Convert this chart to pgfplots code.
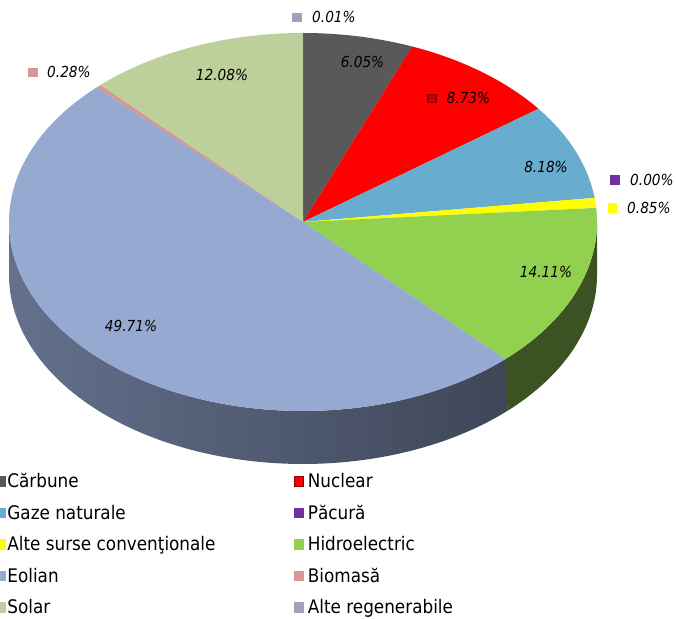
\documentclass[border=0pt]{standalone}
\usepackage{fontspec}
\setmainfont{DejaVu Sans}[FakeStretch=0.9]
\usepackage{pgfplots}
\pgfplotsset{compat=1.18}
\definecolor{cCarb}{HTML}{595959}
\definecolor{cNuc}{HTML}{FF0000}
\definecolor{cNucD}{HTML}{8A0000}
\definecolor{cNucM}{HTML}{D00000}
\definecolor{cGaz}{HTML}{68ACD0}
\definecolor{cPac}{HTML}{7030A0}
\definecolor{cAlte}{HTML}{FFFF00}
\definecolor{cHid}{HTML}{92D050}
\definecolor{cHidS}{HTML}{3C5222}
\definecolor{cEol}{HTML}{95A9D1}
\definecolor{cEolL}{HTML}{7787A7}
\definecolor{cEolR}{HTML}{3B4253}
\definecolor{cBio}{HTML}{D99694}
\definecolor{cSol}{HTML}{BDCF9B}
\definecolor{cAR}{HTML}{A99CC0}
\pgfdeclarehorizontalshading{eolside}{100bp}{color(0bp)=(cEolL); color(79bp)=(cEolR); color(100bp)=(cEolR)}
% slice on the top face: cumulative start and end percentages
\newcommand{\pieslice}[3]{\addplot[forget plot, draw=none, fill=#3, mark=none,
  domain=90-3.6*(#2):90-3.6*(#1), samples=90]
  ({303+294*cos(x)},{396+189*sin(x)}) -- (axis cs:303,396) -- cycle;}
% visible side band between angles #1 and #2 (depth 53)
\newcommand{\pieside}[3]{\addplot[forget plot, draw=none, #3, mark=none, domain=0:2, samples=161]
  ({303+294*cos(ifthenelse(x<=1,(#1)+((#2)-(#1))*x,(#2)+((#1)-(#2))*(x-1)))},
   {396+189*sin(ifthenelse(x<=1,(#1)+((#2)-(#1))*x,(#2)+((#1)-(#2))*(x-1)))-53*(x>1)});}
\newcommand{\lab}{\fontsize{15.2}{18}\selectfont\itshape}
\pgfplotsset{
  sqL/.style={legend image code/.code={\fill[#1] (0pt,-4.75pt) rectangle (5pt,4.75pt);}},
  sqR/.style={legend image code/.code={\fill[#1] (0pt,-4.75pt) rectangle (9.5pt,4.75pt);}},
}
\begin{document}
\begin{tikzpicture}
\begin{axis}[width=676pt, height=618pt, scale only axis,
  xmin=0, xmax=676, ymin=0, ymax=618, hide axis, clip=false,
  legend columns=2, legend cell align=left,
  legend style={at={(0,0.2328)}, anchor=north west, draw=none, fill=none,
    inner sep=0pt, outer sep=0pt, row sep=17.8pt,
    font=\fontsize{18.7}{22}\selectfont,
    nodes={inner sep=0pt, outer sep=0pt, text height=13.7pt, text depth=0pt},
    /tikz/column 1/.style={column sep=2pt},
    /tikz/column 2/.style={column sep=78pt},
    /tikz/column 3/.style={column sep=4.5pt}},
]
% sides (front half)
\pieside{90-3.6*37.92+0.6}{-180}{shading=eolside}
\pieside{0}{90-3.6*37.92}{fill=cHidS}
% top face, clockwise from 12 o'clock
\pieslice{0}{6.05}{cCarb}                 % Carbune 6.05
\pieslice{6.05}{14.78}{cNuc}              % Nuclear 8.73
\pieslice{14.78}{22.96}{cGaz}             % Gaze naturale 8.18
% Pacura 0.00
\pieslice{22.96}{23.81}{cAlte}            % Alte surse conventionale 0.85
\pieslice{23.81}{37.92}{cHid}             % Hidroelectric 14.11
\pieslice{37.92}{87.63}{cEol}             % Eolian 49.71
\pieslice{87.63}{87.91}{cBio}             % Biomasa 0.28
\pieslice{87.91}{99.99}{cSol}             % Solar 12.08
\pieslice{99.99}{100}{cAR}                % Alte regenerabile 0.01
% data labels
\node[anchor=west, inner sep=0pt, text height=11pt, text depth=0pt, font=\lab] at (axis cs:292,600.5)
  {\textcolor{cAR}{\rule[0.75pt]{9.5pt}{9.5pt}}\hspace{10.5pt}0.01\%};
\node[inner sep=0pt, text height=11pt, text depth=0pt, font=\lab] at (axis cs:362.5,556) {6.05\%};
\node[anchor=west, inner sep=0pt, text height=11pt, text depth=0pt, font=\lab] at (axis cs:427,519.5)
  {\textcolor{cNucD}{\rule[0.75pt]{9.5pt}{9.5pt}}\hspace{-8pt}\textcolor{cNucM}{\rule[2.25pt]{6.5pt}{6.5pt}}\hspace{11.5pt}8.73\%};
\node[inner sep=0pt, text height=11pt, text depth=0pt, font=\lab] at (axis cs:546,451) {8.18\%};
\node[anchor=west, inner sep=0pt, text height=11pt, text depth=0pt, font=\lab] at (axis cs:610,438)
  {\textcolor{cPac}{\rule[0.75pt]{9.5pt}{9.5pt}}\hspace{10.5pt}0.00\%};
\node[anchor=west, inner sep=0pt, text height=11pt, text depth=0pt, font=\lab] at (axis cs:607.5,410)
  {\textcolor{cAlte}{\rule[0.75pt]{9.5pt}{9.5pt}}\hspace{10pt}0.85\%};
\node[inner sep=0pt, text height=11pt, text depth=0pt, font=\lab] at (axis cs:546,346) {14.11\%};
\node[inner sep=0pt, text height=11pt, text depth=0pt, font=\lab] at (axis cs:131,292) {49.71\%};
\node[anchor=west, inner sep=0pt, text height=11pt, text depth=0pt, font=\lab] at (axis cs:28,545.5)
  {\textcolor{cBio}{\rule[0.75pt]{9.5pt}{9.5pt}}\hspace{9.5pt}0.28\%};
\node[inner sep=0pt, text height=11pt, text depth=0pt, font=\lab] at (axis cs:222,543) {12.08\%};
% legend
\addlegendimage{sqL=cCarb}\addlegendentry{Cărbune}
\addlegendimage{sqR={cNuc,draw=cNucD}}\addlegendentry{Nuclear}
\addlegendimage{sqL=cGaz}\addlegendentry{Gaze naturale}
\addlegendimage{sqR=cPac}\addlegendentry{Păcură}
\addlegendimage{sqL=cAlte}\addlegendentry{Alte surse convenţionale}
\addlegendimage{sqR=cHid}\addlegendentry{Hidroelectric}
\addlegendimage{sqL=cEol}\addlegendentry{Eolian}
\addlegendimage{sqR=cBio}\addlegendentry{Biomasă}
\addlegendimage{sqL=cSol}\addlegendentry{Solar}
\addlegendimage{sqR=cAR}\addlegendentry{Alte regenerabile}
\end{axis}
\pgfresetboundingbox
\path (current axis.south west) rectangle (current axis.north east);
\end{tikzpicture}
\end{document}
